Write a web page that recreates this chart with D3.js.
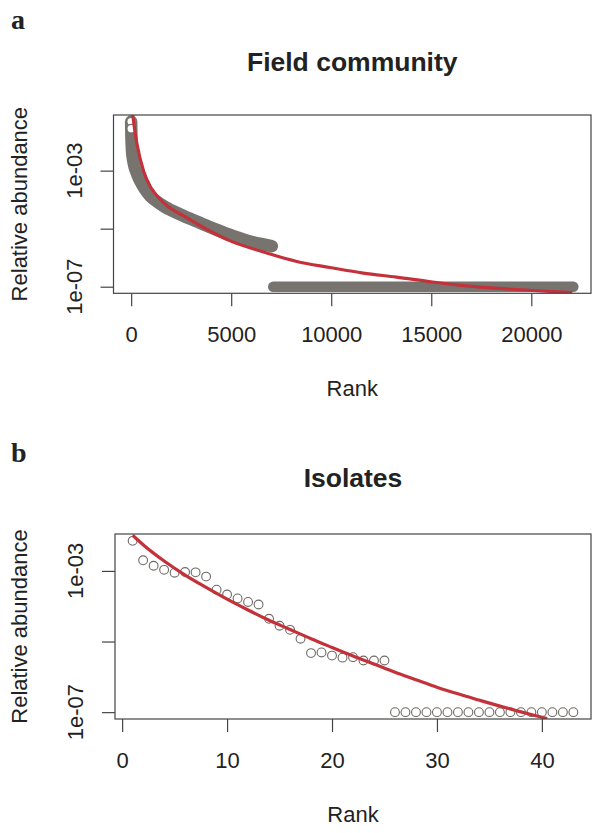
<!DOCTYPE html>
<html lang="en">

<head>
    <meta charset="UTF-8">
    <script src="https://d3js.org/d3.v7.min.js"></script>
    <title>Rank abundance</title>
    <style>
        body {
            margin: 0;
            background: #fff;
        }

        svg text {
            font-family: "Liberation Sans", Arial, sans-serif;
            fill: #222;
        }

        .panel-letter {
            font-family: "Liberation Serif", "Times New Roman", serif !important;
            font-weight: bold;
            font-size: 28px;
        }

        .title {
            font-weight: bold;
            font-size: 26.5px;
        }

        .axis-label,
        .tick-label {
            font-size: 22px;
        }
    </style>
</head>

<body>
    <svg id="chart" width="593" height="833"></svg>
    <script>
        // ---- panel a: field community ----
        // thick band of ranked OTUs (centre line)
        const fieldRanks = [1, 5, 15, 40, 90, 165, 300, 464, 700, 962, 1300, 1625, 2100, 2622, 3455, 4287, 5115, 5947, 7030];
        const fieldAbund = [4.9e-2, 2.8e-2, 1.26e-2, 5.0e-3, 2.5e-3, 1.38e-3, 7.6e-4, 4.2e-4, 2.24e-4, 1.32e-4, 8.5e-5, 6.0e-5, 4.0e-5, 2.75e-5, 1.58e-5, 9.1e-6, 5.5e-6, 3.6e-6, 2.5e-6];
        // singletons: a flat run at the detection limit
        const singletonRanks = [7100, 22100];
        const singletonAbund = 1e-7;
        // fitted curve
        const fieldFitRanks = [80, 165, 299, 628, 962, 1127, 1795, 2622, 3455, 4950, 6610, 8275, 9935, 11595, 13260, 15070, 16750, 18410, 20055, 22050];
        const fieldFitAbund = [8.3e-2, 2.9e-2, 7.8e-3, 9.3e-4, 2.8e-4, 1.9e-4, 6.2e-5, 2.75e-5, 1.26e-5, 3.8e-6, 1.58e-6, 7.4e-7, 4.6e-7, 2.95e-7, 2.14e-7, 1.45e-7, 1.07e-7, 8.7e-8, 7.4e-8, 6.2e-8];
        const fieldXTicks = [0, 5000, 10000, 15000, 20000];

        // ---- panel b: isolates ----
        const isolateRanks = [1, 2, 3, 4, 5, 6, 7, 8, 9, 10, 11, 12, 13, 14, 15, 16, 17, 18, 19, 20, 21, 22,
            23, 24, 25, 26, 27, 28, 29, 30, 31, 32, 33, 34, 35, 36, 37, 38, 39, 40, 41, 42, 43];
        const isolateAbund = [7.1e-3, 2.0e-3, 1.4e-3, 1.07e-3, 8.9e-4, 9.3e-4, 9.1e-4, 6.9e-4, 2.95e-4, 2.14e-4, 1.66e-4,
            1.32e-4, 1.12e-4, 4.4e-5, 2.8e-5, 2.14e-5, 1.2e-5, 4.7e-6, 4.9e-6, 4.0e-6, 3.5e-6, 3.6e-6, 2.9e-6, 2.9e-6, 2.9e-6,
            1e-7, 1e-7, 1e-7, 1e-7, 1e-7, 1e-7, 1e-7, 1e-7, 1e-7, 1e-7, 1e-7, 1e-7, 1e-7, 1e-7, 1e-7, 1e-7, 1e-7, 1e-7];
        const isolateFitRanks = [1, 2, 4, 6, 8, 10, 12, 14, 16, 18, 20, 22, 24, 26, 28, 30, 32, 34, 36, 38, 40, 40.5];
        const isolateFitAbund = [1.02e-2, 5.5e-3, 1.9e-3, 7.6e-4, 3.4e-4, 1.58e-4, 7.8e-5, 4.0e-5, 2.2e-5, 1.2e-5, 6.8e-6,
            3.9e-6, 2.3e-6, 1.35e-6, 8.3e-7, 5.1e-7, 3.3e-7, 2.2e-7, 1.48e-7, 1.02e-7, 7.2e-8, 6.6e-8];
        const isolateXTicks = [0, 10, 20, 30, 40];

        const yTicks = [1e-3, 1e-5, 1e-7];
        const yTickLabels = ['1e-03', '', '1e-07'];

        const grey = '#77736f';
        const red = '#c3323b';

        const svg = d3.select('#chart');

        // R style 4% padding of the data range (log for y)
        function padded(lo, hi) {
            const p = (hi - lo) * 0.04;
            return [lo - p, hi + p];
        }

        function setupPanel(opt) {
            const { left, right, top, bottom } = opt.box;
            const xd = padded(opt.xRange[0], opt.xRange[1]);
            const ld = padded(Math.log10(opt.yRange[0]), Math.log10(opt.yRange[1]));
            const x = d3.scaleLinear().domain(xd).range([left, right]);
            const y = d3.scaleLog().domain([10 ** ld[0], 10 ** ld[1]]).range([bottom, top]);

            const g = svg.append('g');

            g.append('defs').append('clipPath').attr('id', opt.id + '-clip')
                .append('rect')
                .attr('x', left).attr('y', top)
                .attr('width', right - left).attr('height', bottom - top);

            // letter + title
            g.append('text').attr('class', 'panel-letter')
                .attr('x', 11).attr('y', opt.letterY).text(opt.letter);
            g.append('text').attr('class', 'title')
                .attr('x', (left + right) / 2).attr('y', opt.titleY)
                .attr('text-anchor', 'middle').text(opt.title);

            // axes
            const xAxis = g.append('g')
                .attr('transform', `translate(0,${bottom})`)
                .call(d3.axisBottom(x).tickValues(opt.xTicks).tickSize(13).tickPadding(20).tickFormat(d3.format('d')));
            xAxis.select('.domain').remove();
            xAxis.selectAll('line').attr('stroke', '#444').attr('stroke-width', 1.2);
            xAxis.selectAll('text').attr('class', 'tick-label').attr('fill', '#222')
                .style('font-family', '"Liberation Sans", Arial, sans-serif');

            const yAxis = g.append('g')
                .attr('transform', `translate(${left},0)`)
                .call(d3.axisLeft(y).tickValues(yTicks).tickSize(13).tickFormat(''));
            yAxis.select('.domain').remove();
            yAxis.selectAll('line').attr('stroke', '#444').attr('stroke-width', 1.2);

            g.selectAll('.ylab')
                .data(yTicks)
                .enter()
                .append('text')
                .attr('class', 'tick-label')
                .attr('transform', d => `translate(${left - 32},${y(d)}) rotate(-90)`)
                .attr('text-anchor', 'middle')
                .text((d, i) => yTickLabels[i]);

            g.append('text').attr('class', 'axis-label')
                .attr('transform', `translate(27,${(top + bottom) / 2}) rotate(-90)`)
                .attr('text-anchor', 'middle').text('Relative abundance');
            g.append('text').attr('class', 'axis-label')
                .attr('x', (left + right) / 2).attr('y', bottom + 103)
                .attr('text-anchor', 'middle').text('Rank');

            const plot = g.append('g').attr('clip-path', `url(#${opt.id}-clip)`);

            g.append('rect')
                .attr('x', left).attr('y', top)
                .attr('width', right - left).attr('height', bottom - top)
                .attr('fill', 'none').attr('stroke', '#444').attr('stroke-width', 1.2);

            return { x, y, plot };
        }

        const line = (x, y) => d3.line().x(d => x(d[0])).y(d => y(d[1])).curve(d3.curveMonotoneX);

        // ---- panel a ----
        const a = setupPanel({
            id: 'a', letter: 'a', letterY: 29, title: 'Field community', titleY: 71,
            box: { left: 113.5, right: 591, top: 115, bottom: 293.3 },
            xRange: [1, 22100], yRange: [1e-7, 4.9e-2], xTicks: fieldXTicks
        });

        a.plot.append('path')
            .datum(fieldRanks.map((r, i) => [r, fieldAbund[i]]))
            .attr('d', line(a.x, a.y))
            .attr('fill', 'none').attr('stroke', grey)
            .attr('stroke-width', 12.5).attr('stroke-linecap', 'round').attr('stroke-linejoin', 'round');

        a.plot.append('path')
            .datum(singletonRanks.map(r => [r, singletonAbund]))
            .attr('d', line(a.x, a.y))
            .attr('fill', 'none').attr('stroke', grey)
            .attr('stroke-width', 10.5).attr('stroke-linecap', 'round');

        a.plot.selectAll('.top-ring')
            .data(fieldRanks.slice(0, 2))
            .enter()
            .append('circle')
            .attr('cx', d => a.x(d))
            .attr('cy', (d, i) => a.y(fieldAbund[i]))
            .attr('r', 4.3)
            .attr('fill', '#fff').attr('stroke', grey).attr('stroke-width', 1.2);

        a.plot.append('path')
            .datum(fieldFitRanks.map((r, i) => [r, fieldFitAbund[i]]))
            .attr('d', line(a.x, a.y))
            .attr('fill', 'none').attr('stroke', red).attr('stroke-width', 3.2);

        // ---- panel b ----
        const b = setupPanel({
            id: 'b', letter: 'b', letterY: 462, title: 'Isolates', titleY: 487,
            box: { left: 115, right: 591, top: 534, bottom: 719 },
            xRange: [1, 43], yRange: [1e-7, 7.1e-3], xTicks: isolateXTicks
        });

        b.plot.selectAll('circle')
            .data(isolateRanks)
            .enter()
            .append('circle')
            .attr('cx', d => b.x(d))
            .attr('cy', (d, i) => b.y(isolateAbund[i]))
            .attr('r', 4.4)
            .attr('fill', 'none').attr('stroke', '#6e6a66').attr('stroke-width', 1.1);

        b.plot.append('path')
            .datum(isolateFitRanks.map((r, i) => [r, isolateFitAbund[i]]))
            .attr('d', line(b.x, b.y))
            .attr('fill', 'none').attr('stroke', red).attr('stroke-width', 3.2);
    </script>
</body>

</html>
